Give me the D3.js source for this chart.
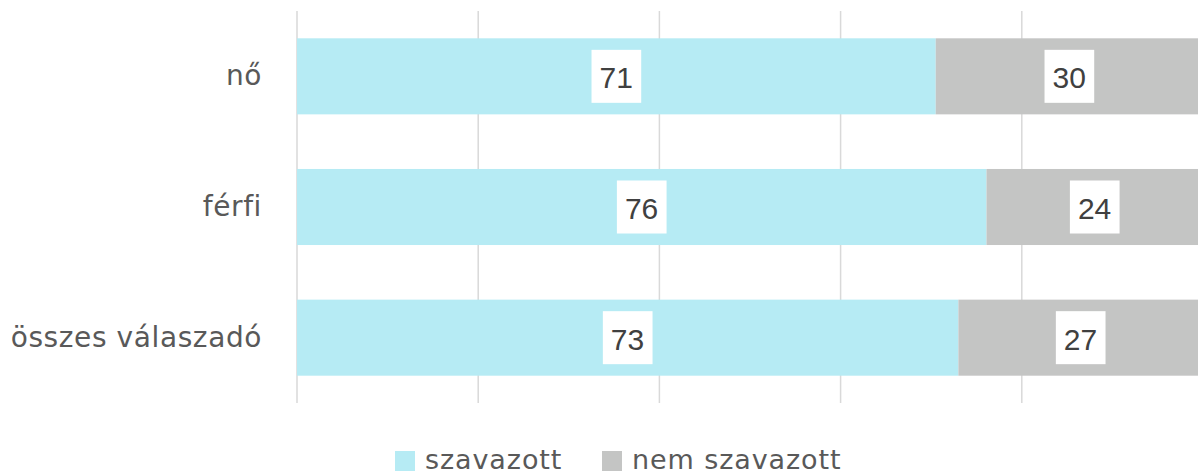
<!DOCTYPE html>
<html>
<head>
<meta charset="utf-8">
<script src="https://cdnjs.cloudflare.com/ajax/libs/d3/7.8.5/d3.min.js"></script>
<style>
  body { margin: 0; background: #fff; }
  svg { display: block; }
</style>
</head>
<body>
<div id="chart"></div>
<script>
// data
const categories = ["nő", "férfi", "összes válaszadó"];
const voted = [70.5, 76.1, 73.0];
const notVoted = [29.5, 23.9, 27.0];
const seriesNames = ["szavazott", "nem szavazott"];
const xTicks = [0, 20, 40, 60, 80, 100];

const colors = ["#b6ebf4", "#c4c5c4"];
const width = 1198, height = 472;
const margin = {top: 11, right: -5, bottom: 69, left: 297};
const textFont = "'DejaVu Sans', sans-serif";

const svg = d3.select("#chart").append("svg")
  .attr("width", width)
  .attr("height", height);

const x = d3.scaleLinear().domain([0, 100]).range([margin.left, width - margin.right]);
const y = d3.scaleBand().domain(categories).range([margin.top, height - margin.bottom]).paddingInner(0.418).paddingOuter(0.209);

// gridlines
svg.append("g").selectAll("line")
  .data(xTicks)
  .enter().append("line")
  .attr("x1", d => x(d)).attr("x2", d => x(d))
  .attr("y1", margin.top).attr("y2", height - margin.bottom)
  .attr("stroke", "#d9d9d9")
  .attr("stroke-width", 1.5);

// stacked rows
const rows = categories.map((c, i) => ({cat: c, values: [voted[i], notVoted[i]]}));
const fmt = d3.format(".0f");

const segs = [];
rows.forEach(r => {
  let acc = 0;
  r.values.forEach((v, k) => {
    segs.push({cat: r.cat, k: k, x0: acc, x1: acc + v, v: v});
    acc += v;
  });
});

svg.append("g").selectAll("rect")
  .data(segs)
  .enter().append("rect")
  .attr("x", d => x(d.x0))
  .attr("y", d => y(d.cat))
  .attr("width", d => x(d.x1) - x(d.x0))
  .attr("height", y.bandwidth())
  .attr("fill", d => colors[d.k]);

// value labels with white boxes (box fits the ink of the digits)
const ctx = document.createElement("canvas").getContext("2d");
const labelFont = "30px 'Liberation Sans', Arial, sans-serif";
ctx.font = labelFont;

const lab = svg.append("g").selectAll("g")
  .data(segs)
  .enter().append("g")
  .attr("transform", d => `translate(${(x(d.x0) + x(d.x1)) / 2},${y(d.cat) + y.bandwidth() / 2})`);

lab.each(function(d) {
  const t = fmt(d.v);
  const m = ctx.measureText(t);
  const inkL = -m.actualBoundingBoxLeft, inkR = m.actualBoundingBoxRight;
  const pad = 9;
  const g = d3.select(this);
  const shift = -(inkL + inkR) / 2;
  g.append("rect")
    .attr("x", -(inkR - inkL) / 2 - pad)
    .attr("y", -26.5)
    .attr("width", (inkR - inkL) + 2 * pad)
    .attr("height", 53)
    .attr("fill", "#fff");
  g.append("text")
    .attr("x", shift)
    .attr("y", 12)
    .style("font", labelFont)
    .attr("fill", "#404040")
    .text(t);
});

// category labels
svg.append("g").selectAll("text")
  .data(categories)
  .enter().append("text")
  .attr("x", 262)
  .attr("y", d => y(d) + y.bandwidth() / 2 + 9)
  .attr("text-anchor", "end")
  .style("font-family", textFont)
  .style("font-size", "28px")
  .style("letter-spacing", "0.6px")
  .attr("fill", "#595959")
  .text(d => d);

// legend
const legendX = [395, 602];
const legend = svg.append("g").selectAll("g")
  .data(seriesNames)
  .enter().append("g")
  .attr("transform", (d, i) => `translate(${legendX[i]},451)`);

legend.append("rect")
  .attr("width", 20).attr("height", 20)
  .attr("fill", (d, i) => colors[i]);

legend.append("text")
  .attr("x", 30)
  .attr("y", 18)
  .style("font-family", textFont)
  .style("font-size", "27px")
  .style("letter-spacing", "0.9px")
  .attr("fill", "#595959")
  .text(d => d);
</script>
</body>
</html>
